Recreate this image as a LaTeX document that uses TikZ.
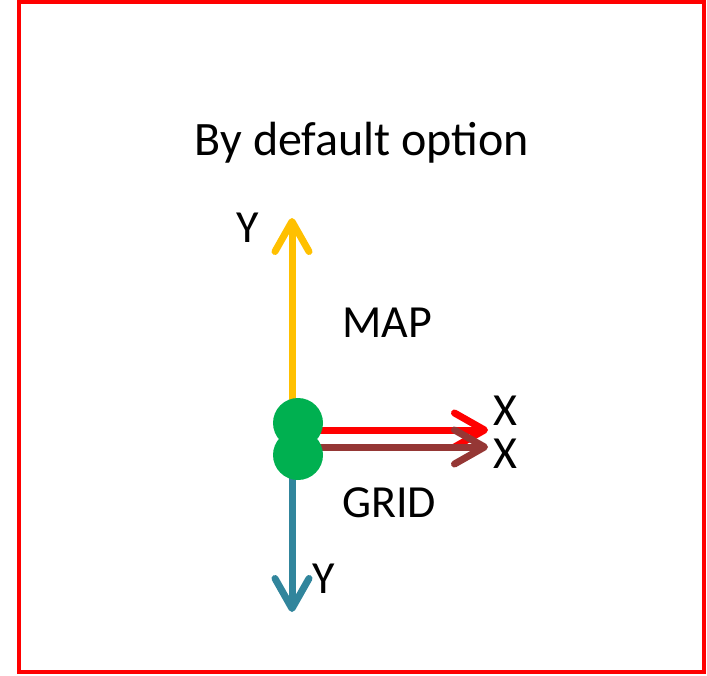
\documentclass[tikz,border=0pt]{standalone}
\usepackage{fontspec}
\setmainfont{Carlito}
\usepackage{tikz}
\usetikzlibrary{arrows.meta, positioning, backgrounds}
\definecolor{mapyellow}{HTML}{FFC000}
\definecolor{gridblue}{HTML}{31859C}
\definecolor{mapred}{HTML}{FF0000}
\definecolor{gridbrown}{HTML}{953735}
\definecolor{origgreen}{HTML}{00B050}

\begin{document}
\begin{tikzpicture}[x=1pt, y=-1pt,
    dot/.style={circle, fill=origgreen, minimum size=50pt, inner sep=0pt},
    lbl/.style={font=\fontsize{46}{55}\selectfont, inner sep=0pt, anchor=base west},
    axis/.style={-{Straight Barb[length=30pt, width=34pt, round]}, line cap=round, line width=7pt}]

    \useasboundingbox (0,0) rectangle (707,675);
    \draw[mapred, line width=4pt] (19,2) rectangle (704,672);

    \node[lbl, anchor=base, font=\fontsize{48}{58}\selectfont] (title) at (362,155) {By default option};

    % origin points
    \node[dot] (mapO) at (298,423) {};
    \node[dot] (gridO) at (298,455) {};

    % arrow tips
    \coordinate (mapY) at (292,218);
    \coordinate (gridY) at (292,612);
    \coordinate (mapX) at (488,430);
    \coordinate (gridX) at (488,447);

    \begin{scope}[on background layer]
        \draw[axis, mapyellow] (mapY |- mapO.center) -- (mapY);
        \draw[axis, gridblue] (gridY |- gridO.center) -- (gridY);
        \draw[axis, mapred] (mapO.center |- mapX) -- (mapX);
        \draw[axis, gridbrown] (gridO.center |- gridX) -- (gridX);
    \end{scope}

    \node[lbl] (mapYlbl) at (236,242) {Y};
    \node[lbl] (maplbl) at (342,337) {MAP};
    \node[lbl] (mapXlbl) at (493,425) {X};
    \node[lbl] (gridXlbl) at (493,468) {X};
    \node[lbl] (gridlbl) at (342,517) {GRID};
    \node[lbl] (gridYlbl) at (312,593) {Y};

\end{tikzpicture}
\end{document}
